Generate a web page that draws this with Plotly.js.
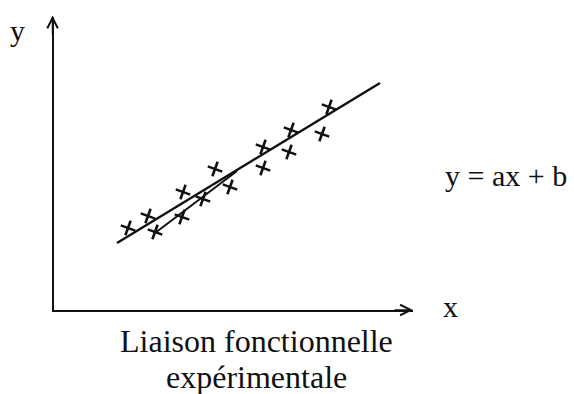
<!DOCTYPE html>
<html>
<head>
<meta charset="utf-8">
<script src="https://cdn.plot.ly/plotly-3.0.1.min.js"></script>
<style>html,body{margin:0;padding:0;background:#fff;}#chart{width:574px;height:394px;}</style>
</head>
<body>
<div id="chart"></div>
<script>
// Experimental points (sketch units, origin at the axes corner)
const pointsX = [74, 94, 101, 129, 128, 149, 161, 176, 209, 209, 237, 235, 268, 275];
const pointsY = [82, 94, 78, 118, 93, 111, 141, 123, 163, 142, 180, 158, 176, 203];
// Fitted line y = ax + b (end points)
const fitX = [63, 326];
const fitY = [67, 227];
// Hand-drawn secondary stroke
const strokeX = [101, 183];
const strokeY = [77, 139];

const SERIF = "'Liberation Serif', 'Times New Roman', Times, serif";

const traces = [
  {x: fitX, y: fitY, type: 'scatter', mode: 'lines', line: {color: '#111', width: 2.4}, hoverinfo: 'skip'},
  {x: strokeX, y: strokeY, type: 'scatter', mode: 'lines', line: {color: '#111', width: 2}, hoverinfo: 'skip'},
  {x: pointsX, y: pointsY, type: 'scatter', mode: 'markers', cliponaxis: false,
   marker: {symbol: 'cross-thin', size: 11, angle: 20, color: '#111', line: {color: '#111', width: 2.6}}}
];

const layout = {
  width: 574, height: 394,
  margin: {l: 54, r: 161, t: 17, b: 84, pad: 0},
  paper_bgcolor: '#fff', plot_bgcolor: '#fff',
  showlegend: false,
  xaxis: {range: [0, 359], showgrid: false, zeroline: false, showticklabels: false, ticks: '',
          showline: true, linecolor: '#111', linewidth: 1.8, fixedrange: true},
  yaxis: {range: [0, 293], showgrid: false, zeroline: false, showticklabels: false, ticks: '',
          showline: true, linecolor: '#111', linewidth: 1.8, fixedrange: true},
  annotations: [
    // axis arrowheads
    {xref: 'paper', yref: 'paper', x: 1, y: 0, ax: -20, ay: 0, text: '', showarrow: true,
     arrowhead: 5, arrowsize: 1.3, arrowwidth: 1.6, arrowcolor: '#111'},
    {xref: 'paper', yref: 'paper', x: -0.004, y: 1.005, ax: 0, ay: 20, text: '', showarrow: true,
     arrowhead: 5, arrowsize: 1.3, arrowwidth: 1.6, arrowcolor: '#111'},
    // labels
    {xref: 'paper', yref: 'paper', x: -0.1003, y: 0.955, text: 'y', showarrow: false,
     xanchor: 'center', yanchor: 'middle', font: {family: SERIF, size: 30, color: '#111'}},
    {xref: 'paper', yref: 'paper', x: 1.1058, y: 0.012, text: 'x', showarrow: false,
     xanchor: 'center', yanchor: 'middle', font: {family: SERIF, size: 30, color: '#111'}},
    {xref: 'paper', yref: 'paper', x: 1.0836, y: 0.46, text: 'y = ax + b', showarrow: false,
     xanchor: 'left', yanchor: 'middle', font: {family: SERIF, size: 30, color: '#111'}},
    {xref: 'paper', yref: 'paper', x: 0.5627, y: -0.105, text: 'Liaison fonctionnelle',
     showarrow: false, xanchor: 'center', yanchor: 'middle',
     font: {family: SERIF, size: 32, color: '#111'}},
    {xref: 'paper', yref: 'paper', x: 0.5627, y: -0.228, text: 'expérimentale',
     showarrow: false, xanchor: 'center', yanchor: 'middle',
     font: {family: SERIF, size: 32, color: '#111'}}
  ]
};

Plotly.newPlot('chart', traces, layout, {displayModeBar: false, staticPlot: true});
</script>
</body>
</html>
